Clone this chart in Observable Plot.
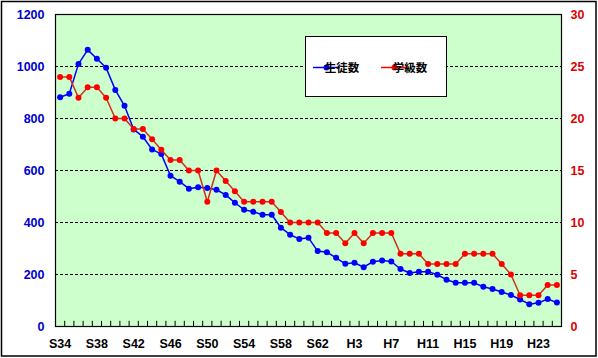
<!DOCTYPE html>
<html>
<head>
<meta charset="utf-8">
<script src="https://cdn.jsdelivr.net/npm/d3@7"></script>
<script src="https://cdn.jsdelivr.net/npm/@observablehq/plot@0.6"></script>
<style>
  html, body { margin: 0; padding: 0; background: white; }
</style>
</head>
<body>
<div id="chart"></div>
<script>
const years = ["S34","S35","S36","S37","S38","S39","S40","S41","S42","S43","S44","S45","S46","S47","S48","S49","S50","S51","S52","S53","S54","S55","S56","S57","S58","S59","S60","S61","S62","S63",
  "H1","H2","H3","H4","H5","H6","H7","H8","H9","H10","H11","H12","H13","H14","H15","H16","H17","H18","H19","H20","H21","H22","H23","H24","H25"];
const students = [882,895,1010,1064,1030,995,910,849,758,730,681,663,580,557,530,536,533,526,506,476,449,441,430,430,380,353,337,341,290,286,264,241,245,228,249,254,250,221,206,211,211,199,180,168,168,168,153,144,133,121,104,86,91,106,92];
const classes = [24,24,22,23,23,22,20,20,19,19,18,17,16,16,15,15,12,15,14,13,12,12,12,12,11,10,10,10,10,9,9,8,9,8,9,9,9,7,7,7,6,6,6,6,7,7,7,7,6,5,3,3,3,4,4];
const tickLabels = ["S34","S38","S42","S46","S50","S54","S58","S62","H3","H7","H11","H15","H19","H23"];
const leftTicks = [0,200,400,600,800,1000,1200];
const rightTicks = [0,5,10,15,20,25,30];
const gridLines = [200,400,600,800,1000];
const seriesNames = ["生徒数","学級数"];

const ratio = 1200 / 30;
const blue = "#0000ff", redDot = "#ff0000", redLine = "#d03020";
const font = "'Liberation Sans', Arial, sans-serif";

const studentData = students.map((v, i) => ({i, v}));
const classData = classes.map((v, i) => ({i, v: v * ratio}));
const bounds = d3.range(1, years.length).map(i => i - 0.5);
const labelIdx = tickLabels.map(l => years.indexOf(l));

const chart = Plot.plot({
  width: 598,
  height: 358,
  marginLeft: 55,
  marginRight: 37,
  marginTop: 14,
  marginBottom: 32,
  style: {fontFamily: font, fontSize: "12px", fontWeight: "bold", background: "white", overflow: "visible"},
  x: {domain: [-0.5, years.length - 0.5], label: null},
  y: {domain: [0, 1200], label: null},
  marks: [
    Plot.frame({fill: "#ccffcc", stroke: null}),
    Plot.ruleY(gridLines, {stroke: "black", strokeWidth: 1, strokeDasharray: "3,2"}),
    Plot.ruleX(bounds, {x: d => d, y1: 0, y2: 20, stroke: "black", strokeWidth: 1}),
    Plot.line(studentData, {x: "i", y: "v", stroke: blue, strokeWidth: 1.5}),
    Plot.dot(studentData, {x: "i", y: "v", r: 3, fill: blue, stroke: null}),
    Plot.line(classData, {x: "i", y: "v", stroke: redLine, strokeWidth: 1.5}),
    Plot.dot(classData, {x: "i", y: "v", r: 3, fill: redDot, stroke: null}),
    Plot.frame({stroke: "black", strokeWidth: 1.2}),
    Plot.axisY(leftTicks, {anchor: "left", label: null, tickSize: 0, tickPadding: 11, tickFormat: d => String(d), fill: "#0000cc", fontWeight: "bold", fontSize: 12.5}),
    Plot.axisY(rightTicks.map(v => v * ratio), {anchor: "right", label: null, tickSize: 0, tickPadding: 9, tickFormat: d => String(d / ratio), fill: "#dd0000", fontWeight: "bold", fontSize: 12.5}),
    Plot.axisX(labelIdx, {anchor: "bottom", label: null, tickSize: 0, tickPadding: 13, tickFormat: i => years[i], fill: "black", fontWeight: "bold", fontSize: 12.5})
  ]
});

const svg = d3.select(chart);
// outer border
svg.append("rect")
  .attr("x", 1.5).attr("y", 1.5).attr("width", 594.5).attr("height", 354.5)
  .attr("fill", "none").attr("stroke", "black").attr("stroke-width", 1.5);

// legend
const lg = svg.append("g");
lg.append("rect").attr("x", 305.5).attr("y", 36.5).attr("width", 141).attr("height", 60)
  .attr("fill", "white").attr("stroke", "black").attr("stroke-width", 1);
const items = [
  {name: seriesNames[0], x0: 313, line: blue, dot: blue},
  {name: seriesNames[1], x0: 381, line: redDot, dot: redDot}
];
const ly = 67.5;
items.forEach(it => {
  lg.append("line").attr("x1", it.x0).attr("x2", it.x0 + 27).attr("y1", ly).attr("y2", ly)
    .attr("stroke", it.line).attr("stroke-width", 1.5);
  lg.append("circle").attr("cx", it.x0 + 13.5).attr("cy", ly).attr("r", 3).attr("fill", it.dot);
  lg.append("text").attr("x", it.x0 + 29).attr("y", ly).attr("dy", "0.36em")
    .attr("font-family", "'Noto Sans CJK JP', sans-serif").attr("font-size", 11.5).attr("font-weight", "bold")
    .attr("fill", "black").text(it.name);
});

document.getElementById("chart").appendChild(chart);
</script>
</body>
</html>
